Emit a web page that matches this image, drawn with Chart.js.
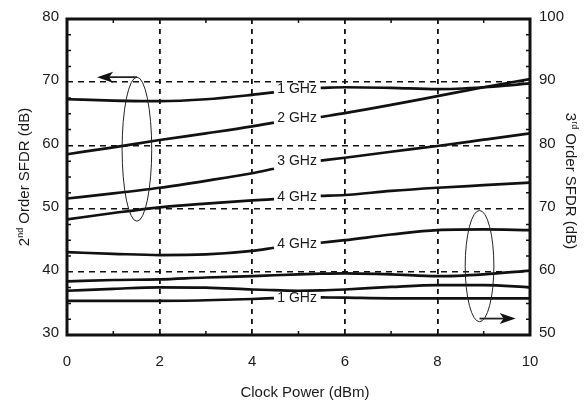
<!DOCTYPE html>
<html>
<head>
<meta charset="utf-8">
<script src="https://cdn.jsdelivr.net/npm/chart.js@4/dist/chart.umd.min.js"></script>
<style>
  html, body { margin: 0; padding: 0; background: #fff; }
  #wrap { width: 587px; height: 404px; }
</style>
</head>
<body>
<div id="wrap"><canvas id="sfdrChart"></canvas></div>
<script>
// clock power (dBm); the point at 5 is where the curve labels sit
var clockPower = [0, 1, 2, 3, 4, 4.47, 5, 5.48, 6, 7, 8, 9, 10];

// 2nd order SFDR (dB), left axis
var sfdr2_1GHz = [67.3, 67.1, 67.0, 67.3, 68.0, 68.4, null, 69.1, 69.2, 69.1, 68.9, 69.2, 69.8];
var sfdr2_2GHz = [58.6, 59.7, 60.85, 61.9, 63.0, 63.6, null, 64.5, 65.1, 66.4, 67.8, 69.2, 70.5];
var sfdr2_3GHz = [51.6, 52.4, 53.3, 54.4, 55.6, 56.3, null, 57.6, 58.05, 59.0, 59.9, 60.9, 61.9];
var sfdr2_4GHz = [48.3, 49.3, 50.2, 50.8, 51.3, 51.5, null, 52.0, 52.15, 52.8, 53.3, 53.7, 54.1];

// 3rd order SFDR (dB), right axis
var sfdr3_4GHz = [63.1, 62.85, 62.65, 62.75, 63.3, 63.8, null, 64.6, 65.0, 65.9, 66.6, 66.7, 66.6];
var sfdr3_3GHz = [58.5, 58.7, 58.8, 59.1, 59.3, 59.45, 59.6, 59.7, 59.75, 59.6, 59.3, 59.6, 60.2];
var sfdr3_2GHz = [57.0, 57.3, 57.55, 57.5, 57.2, 57.1, 57.0, 57.05, 57.2, 57.6, 57.9, 57.9, 57.55];
var sfdr3_1GHz = [55.4, 55.4, 55.4, 55.5, 55.7, 55.85, null, 55.95, 55.9, 55.8, 55.8, 55.8, 55.8];

var xTicks = [0, 2, 4, 6, 8, 10];
var leftTicks = [30, 40, 50, 60, 70, 80];
var rightTicks = [50, 60, 70, 80, 90, 100];

var series = [
  { name: '1 GHz', values: sfdr2_1GHz, axis: 'y', tag: true },
  { name: '2 GHz', values: sfdr2_2GHz, axis: 'y', tag: true },
  { name: '3 GHz', values: sfdr2_3GHz, axis: 'y', tag: true },
  { name: '4 GHz', values: sfdr2_4GHz, axis: 'y', tag: true },
  { name: '4 GHz', values: sfdr3_4GHz, axis: 'y2', tag: true },
  { name: '3 GHz', values: sfdr3_3GHz, axis: 'y2', tag: false },
  { name: '2 GHz', values: sfdr3_2GHz, axis: 'y2', tag: false },
  { name: '1 GHz', values: sfdr3_1GHz, axis: 'y2', tag: true }
];

// ellipse + arrow markers, in data units
var markers = [
  { axis: 'y', cx: 1.51, cy: 59.4, rx: 0.32, ry: 11.4, ax0: 1.51, ay: 70.8, ax1: 0.65 },
  { axis: 'y2', cx: 8.91, cy: 60.9, rx: 0.31, ry: 8.8, ax0: 8.91, ay: 52.6, ax1: 9.69 }
];

var FONT = '"Liberation Sans", Arial, Helvetica, sans-serif';
var INK = '#1a1a1a';

Chart.defaults.font.family = FONT;
Chart.defaults.font.size = 15;
Chart.defaults.color = INK;

function hideEdges(lo, hi) {
  return function(c) {
    var v = c.tick && c.tick.value;
    return (v === lo || v === hi) ? 'rgba(0,0,0,0)' : '#111';
  };
}

function drawArrow(ctx, x0, y, x1) {
  var dir = x1 > x0 ? 1 : -1;
  ctx.beginPath();
  ctx.moveTo(x0, y);
  ctx.lineTo(x1 - dir * 10, y);
  ctx.lineWidth = 1.8;
  ctx.stroke();
  ctx.beginPath();
  ctx.moveTo(x1, y);
  ctx.lineTo(x1 - dir * 16, y - 5.5);
  ctx.lineTo(x1 - dir * 12, y);
  ctx.lineTo(x1 - dir * 16, y + 5.5);
  ctx.closePath();
  ctx.fill();
}

function drawSupTitle(ctx, big, sup, rest) {
  ctx.font = '15px ' + FONT;
  var w1 = ctx.measureText(big).width;
  var w3 = ctx.measureText(rest).width;
  ctx.font = '9px ' + FONT;
  var w2 = ctx.measureText(sup).width;
  var x = -(w1 + w2 + w3) / 2;
  ctx.textBaseline = 'alphabetic';
  ctx.textAlign = 'left';
  ctx.font = '15px ' + FONT;
  ctx.fillText(big, x, 0);
  ctx.font = '9px ' + FONT;
  ctx.fillText(sup, x + w1, -6);
  ctx.font = '15px ' + FONT;
  ctx.fillText(rest, x + w1 + w2, 0);
}

var decor = {
  id: 'decor',
  afterDatasetsDraw: function(chart) {
    var ctx = chart.ctx, a = chart.chartArea, sc = chart.scales;
    ctx.save();

    // curve labels in the gaps
    ctx.fillStyle = INK;
    ctx.font = '14px ' + FONT;
    ctx.textAlign = 'center';
    ctx.textBaseline = 'middle';
    series.forEach(function(s) {
      if (!s.tag) return;
      var yv = s.values[7];
      ctx.fillText(s.name, sc.x.getPixelForValue(4.97), sc[s.axis].getPixelForValue(yv) + 1);
    });

    // ellipses and arrows
    ctx.strokeStyle = '#222';
    ctx.fillStyle = '#111';
    markers.forEach(function(m) {
      var ys = sc[m.axis];
      var cx = sc.x.getPixelForValue(m.cx), cy = ys.getPixelForValue(m.cy);
      var rx = Math.abs(sc.x.getPixelForValue(m.cx + m.rx) - cx);
      var ry = Math.abs(ys.getPixelForValue(m.cy + m.ry) - cy);
      ctx.beginPath();
      ctx.lineWidth = 1;
      ctx.ellipse(cx, cy, rx, ry, 0, 0, Math.PI * 2);
      ctx.stroke();
      drawArrow(ctx, sc.x.getPixelForValue(m.ax0), ys.getPixelForValue(m.ay), sc.x.getPixelForValue(m.ax1));
    });

    // minor inward ticks
    ctx.strokeStyle = '#111';
    ctx.lineWidth = 1.5;
    ctx.beginPath();
    for (var i = 1; i < 10; i += 2) {
      var px = sc.x.getPixelForValue(i);
      ctx.moveTo(px, a.bottom); ctx.lineTo(px, a.bottom - 4);
      ctx.moveTo(px, a.top); ctx.lineTo(px, a.top + 4);
    }
    for (var v = 32.5; v < 80; v += 2.5) {
      if (v % 10 === 0) continue;
      var py = sc.y.getPixelForValue(v);
      ctx.moveTo(a.left, py); ctx.lineTo(a.left + 4, py);
      ctx.moveTo(a.right, py); ctx.lineTo(a.right - 4, py);
    }
    ctx.stroke();

    // frame
    ctx.lineWidth = 3;
    ctx.strokeRect(a.left, a.top, a.right - a.left, a.bottom - a.top);
    ctx.restore();
  },
  afterDraw: function(chart) {
    var ctx = chart.ctx, a = chart.chartArea;
    ctx.save();
    ctx.fillStyle = INK;

    ctx.font = '15px ' + FONT;
    ctx.textAlign = 'center';
    ctx.textBaseline = 'alphabetic';
    ctx.fillText('Clock Power (dBm)', 305, 397);

    ctx.save();
    ctx.translate(29, (a.top + a.bottom) / 2);
    ctx.rotate(-Math.PI / 2);
    drawSupTitle(ctx, '2', 'nd', ' Order SFDR (dB)');
    ctx.restore();

    ctx.save();
    ctx.translate(566, (a.top + a.bottom) / 2 + 4);
    ctx.rotate(Math.PI / 2);
    drawSupTitle(ctx, '3', 'rd', ' Order SFDR (dB)');
    ctx.restore();

    ctx.restore();
  }
};

var datasets = series.map(function(s) {
  return {
    label: s.name,
    data: clockPower.map(function(x, i) { return { x: x, y: s.values[i] }; }),
    yAxisID: s.axis,
    borderColor: '#111',
    borderWidth: 2.7,
    pointRadius: 0,
    fill: false,
    spanGaps: false,
    cubicInterpolationMode: 'monotone'
  };
});

var ctx = document.getElementById('sfdrChart').getContext('2d');
var chart = new Chart(ctx, {
  type: 'line',
  data: { datasets: datasets },
  options: {
    responsive: true,
    maintainAspectRatio: false,
    animation: false,
    layout: { padding: { top: 19, left: 0, right: 0, bottom: 0 } },
    plugins: { legend: { display: false }, tooltip: { enabled: false } },
    scales: {
      x: {
        type: 'linear',
        min: 0, max: 10,
        afterFit: function(s) { s.height = 69; },
        afterBuildTicks: function(s) { s.ticks = xTicks.map(function(v) { return { value: v }; }); },
        ticks: { padding: 18, maxRotation: 0 },
        grid: { drawTicks: false, color: hideEdges(0, 10), lineWidth: 1.8 },
        border: { display: false, dash: [5, 5] }
      },
      y: {
        type: 'linear',
        position: 'left',
        min: 30, max: 80,
        afterFit: function(s) { s.width = 67; },
        afterBuildTicks: function(s) { s.ticks = leftTicks.map(function(v) { return { value: v }; }); },
        ticks: { padding: 8, labelOffset: -2 },
        grid: { drawTicks: false, color: hideEdges(30, 80), lineWidth: 1.6 },
        border: { display: false, dash: [6, 5] }
      },
      y2: {
        type: 'linear',
        position: 'right',
        min: 50, max: 100,
        afterFit: function(s) { s.width = 57; },
        afterBuildTicks: function(s) { s.ticks = rightTicks.map(function(v) { return { value: v }; }); },
        ticks: { padding: 9, labelOffset: -2 },
        grid: { display: false, drawTicks: false },
        border: { display: false }
      }
    }
  },
  plugins: [decor]
});
</script>
</body>
</html>
